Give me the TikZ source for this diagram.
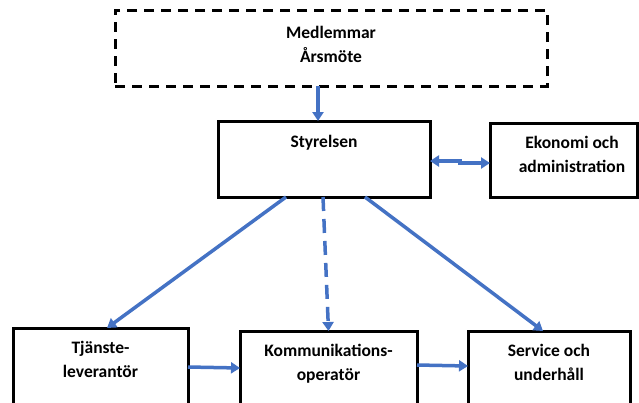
\documentclass[tikz,border=0pt]{standalone}
\usepackage{fontspec}
\setmainfont{Carlito}
\usepackage{tikz}
\usetikzlibrary{arrows.meta,positioning}
\definecolor{arrblue}{HTML}{4472C4}
\newcommand{\orgfont}{\bfseries\fontsize{17.5}{24}\selectfont}

\begin{document}
\begin{tikzpicture}[x=1pt,y=-1pt]

\tikzset{
	org/.style={
		draw=black,
		rectangle,
		line width=3pt,
		text centered,
		font=\orgfont,
		inner sep=0pt,
		outer sep=0pt,
		text height=26pt},
	orgdash/.style={
		org,
		dash pattern=on 10pt off 7pt},
	arr/.style={
		draw=arrblue,
		line width=3.5pt,
		-{Triangle[length=9pt,width=11pt]}},
	arrboth/.style={
		arr,
		{Triangle[length=9pt,width=11pt]}-{Triangle[length=9pt,width=11pt]}},
	arrdash/.style={
		arr,
		dash pattern=on 14pt off 8pt}
}

\clip (0,0) rectangle (639,402);

\node[orgdash,minimum width=432pt,text height=28pt,text depth=48pt] (mote) at (331,48) {
	\begin{tabular}[t]{@{}c@{}}Medlemmar\\Årsmöte\end{tabular}};

\node[org,minimum width=212pt,text depth=50pt,below=35pt of mote.south,anchor=north,xshift=-7pt] (sty) {Styrelsen};

\node[org,minimum width=147pt,text height=25pt,text depth=49pt,right=60pt of sty.east,anchor=west,yshift=-1pt] (ek) {
	\begin{tabular}[t]{@{\hskip17pt}c@{}}Ekonomi och\\administration\end{tabular}};

\node[org,minimum width=177pt,text height=25pt,text depth=67pt,below=134pt of sty.south,anchor=north,xshift=4.5pt] (ko) {
	\begin{tabular}[t]{@{}c@{}}Kommunikations-\\operatör\end{tabular}};

\node[org,minimum width=175pt,text height=25pt,text depth=67pt,left=52pt of ko.north west,anchor=north east,yshift=3pt] (tj) {
	\begin{tabular}[t]{@{}c@{}}Tjänste-\\leverantör\end{tabular}};

\node[org,minimum width=162pt,text height=25pt,text depth=67pt,right=51pt of ko.north east,anchor=north west] (sv) {
	\begin{tabular}[t]{@{}c@{}}Service och\\underhåll\end{tabular}};

% connectors
\draw[arr] ([xshift=-13pt]mote.south) -- ([xshift=-13pt]mote.south |- sty.north);
\draw[arrboth] ([yshift=-2pt]sty.east) -- ++(30,0) |- ([yshift=-3pt]ek.west);
\draw[arr] ([xshift=-38pt]sty.south) -- ([xshift=6.5pt]tj.north);
\draw[arrdash] ([xshift=-1pt]sty.south) -- (ko.north);
\draw[arr] ([xshift=41pt]sty.south) -- ([xshift=-6pt]sv.north);
\draw[arr] ([yshift=7pt]tj.east) -- ([yshift=9pt]ko.west);
\draw[arr] ([yshift=12pt]ko.east) -- ([yshift=11pt]sv.west);

\end{tikzpicture}
\end{document}
